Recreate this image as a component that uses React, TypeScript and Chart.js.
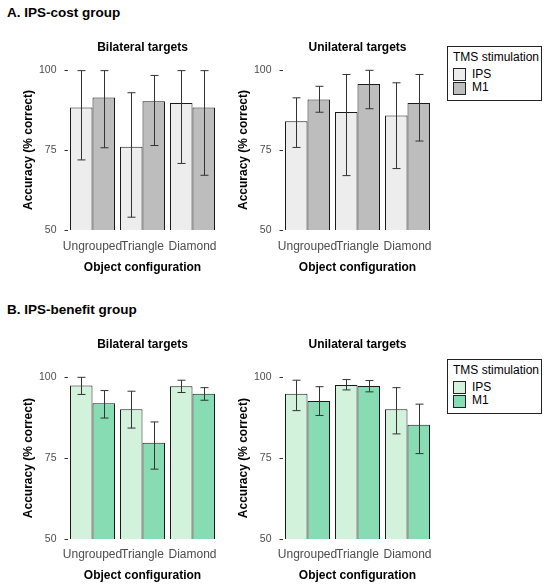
import { useEffect, useRef } from "react";
import { Chart, registerables } from "chart.js";

Chart.register(...registerables);
Chart.defaults.font.family = '"Liberation Sans", Arial, sans-serif';

const categories = ["Ungrouped", "Triangle", "Diamond"];
const seriesNames = ["IPS", "M1"];
const yTicks = [50, 75, 100];

// A. IPS-cost group, bilateral targets
const costBiIps = [88.3, 76.0, 89.7];
const costBiIpsLow = [71.9, 54.0, 70.8];
const costBiIpsHigh = [99.8, 92.9, 99.8];
const costBiM1 = [91.4, 90.2, 88.3];
const costBiM1Low = [75.7, 76.4, 67.1];
const costBiM1High = [99.8, 98.3, 99.8];

// A. IPS-cost group, unilateral targets
const costUniIps = [84.0, 86.9, 85.8];
const costUniIpsLow = [75.8, 67.0, 69.2];
const costUniIpsHigh = [91.3, 98.6, 96.0];
const costUniM1 = [90.8, 95.6, 89.7];
const costUniM1Low = [86.8, 87.9, 77.8];
const costUniM1High = [94.9, 99.9, 98.6];

// B. IPS-benefit group, bilateral targets
const benBiIps = [97.5, 90.1, 97.2];
const benBiIpsLow = [94.7, 84.3, 95.3];
const benBiIpsHigh = [100, 95.7, 99.1];
const benBiM1 = [92.0, 79.8, 94.9];
const benBiM1Low = [87.4, 71.6, 92.9];
const benBiM1High = [95.9, 86.2, 96.8];

// B. IPS-benefit group, unilateral targets
const benUniIps = [94.9, 97.6, 90.1];
const benUniIpsLow = [89.7, 96.1, 82.5];
const benUniIpsHigh = [99.1, 99.3, 96.8];
const benUniM1 = [92.7, 97.3, 85.3];
const benUniM1Low = [88.2, 95.5, 76.4];
const benUniM1High = [97.1, 99.0, 91.7];

const greys = ["#ededed", "#bdbdbd"];
const greens = ["#d3f2dc", "#88dcb3"];
const font = '"Liberation Sans", Arial, sans-serif';

// draws the error bars from each dataset's low/high arrays
const errorBars = {
  id: "errorBars",
  afterDatasetsDraw(chart: any) {
    const { ctx } = chart;
    const y = chart.scales.y;
    ctx.save();
    ctx.strokeStyle = "#333";
    ctx.lineWidth = 1;
    chart.data.datasets.forEach((ds: any, i: number) => {
      chart.getDatasetMeta(i).data.forEach((bar: any, j: number) => {
        const top = y.getPixelForValue(ds.high[j]);
        const bot = y.getPixelForValue(ds.low[j]);
        const x = Math.round(bar.x) + 0.5;
        ctx.beginPath();
        ctx.moveTo(x, top);
        ctx.lineTo(x, bot);
        ctx.moveTo(x - 4, top);
        ctx.lineTo(x + 4, top);
        ctx.moveTo(x - 4, bot);
        ctx.lineTo(x + 4, bot);
        ctx.stroke();
      });
    });
    ctx.restore();
  },
};

function Panel(props: any) {
  const ref = useRef<HTMLCanvasElement>(null);
  useEffect(() => {
    const chart = new Chart(ref.current!, {
      type: "bar",
      data: {
        labels: categories,
        datasets: [
          { label: seriesNames[0], data: props.ips, low: props.ipsLow, high: props.ipsHigh, backgroundColor: props.colors[0] } as any,
          { label: seriesNames[1], data: props.m1, low: props.m1Low, high: props.m1High, backgroundColor: props.colors[1] } as any,
        ],
      },
      options: {
        responsive: false,
        animation: false,
        layout: { padding: { left: 0, right: 12.5, top: 0, bottom: 0 } },
        datasets: {
          bar: { borderColor: "#1a1a1a", borderWidth: 1, borderSkipped: false, categoryPercentage: 0.9, barPercentage: 1 },
        },
        plugins: {
          legend: { display: false },
          tooltip: { enabled: false },
          title: {
            display: true,
            fullSize: false,
            text: props.title,
            color: "#000",
            font: { size: 12, weight: "bold" },
            padding: props.titlePad,
          },
        },
        scales: {
          x: {
            grid: { display: false, drawTicks: false },
            border: { display: false },
            ticks: { color: "#4d4d4d", font: { size: 12 }, padding: props.tickPad, maxRotation: 0, autoSkip: false },
            title: {
              display: true,
              text: "Object configuration",
              color: "#000",
              font: { size: 12, weight: "bold" },
              padding: { top: 0, bottom: props.axisPad },
            },
            afterFit: (s: any) => {
              s.height = 48;
            },
          },
          y: {
            min: 50,
            max: 100,
            afterBuildTicks: (s: any) => {
              s.ticks = yTicks.map((v) => ({ value: v }));
            },
            ticks: { color: "#4d4d4d", font: { size: 10.5 }, padding: 8 },
            grid: { drawOnChartArea: false, drawTicks: true, tickLength: 3, tickColor: "#333" },
            border: { display: false },
            title: {
              display: true,
              text: "Accuracy (% correct)",
              color: "#000",
              font: { size: 12, weight: "bold" },
              padding: { top: 21, bottom: 0 },
            },
            afterFit: (s: any) => {
              s.width = 67.5;
            },
          },
        },
      },
      plugins: [errorBars],
    });
    return () => chart.destroy();
  }, []);
  return (
    <canvas
      ref={ref}
      width={230}
      height={props.height}
      style={{ position: "absolute", left: props.left, top: props.top, width: 230, height: props.height }}
    />
  );
}

function Legend({ top, colors }: { top: number; colors: string[] }) {
  return (
    <div
      style={{
        position: "absolute",
        left: 447,
        top,
        width: 95,
        height: 55,
        boxSizing: "border-box",
        border: "1px solid #222",
        fontFamily: font,
        fontSize: 12,
        color: "#000",
      }}
    >
      <div style={{ position: "absolute", left: 5, top: 3, lineHeight: "14px", whiteSpace: "nowrap" }}>TMS stimulation</div>
      {seriesNames.map((name, i) => (
        <div key={name}>
          <div
            style={{
              position: "absolute",
              left: 5,
              top: 21.3 + i * 13.4,
              width: 13,
              height: 13,
              boxSizing: "border-box",
              border: "1.5px solid #222",
              background: colors[i],
            }}
          />
          <div style={{ position: "absolute", left: 24, top: 20.5 + i * 13.4, lineHeight: "13px" }}>{name}</div>
        </div>
      ))}
    </div>
  );
}

const heading = (top: number): any => ({
  position: "absolute",
  left: 7,
  top,
  fontFamily: font,
  fontSize: 13.5,
  fontWeight: "bold",
  lineHeight: "13.5px",
  color: "#000",
  whiteSpace: "nowrap",
});

export default function App() {
  const top = { height: 248, titlePad: { top: 10.3, bottom: 15.3 }, tickPad: 9.8, axisPad: 3.3 };
  const bottom = { height: 257, titlePad: { top: 7.3, bottom: 25.6 }, tickPad: 8.5, axisPad: 4.1 };
  return (
    <div style={{ position: "absolute", left: 0, top: 0, width: 550, height: 588, background: "#fff" }}>
      <div style={heading(5.6)}>A. IPS-cost group</div>
      <Panel {...top} left={0} top={30} title="Bilateral targets" colors={greys}
        ips={costBiIps} ipsLow={costBiIpsLow} ipsHigh={costBiIpsHigh} m1={costBiM1} m1Low={costBiM1Low} m1High={costBiM1High} />
      <Panel {...top} left={215} top={30} title="Unilateral targets" colors={greys}
        ips={costUniIps} ipsLow={costUniIpsLow} ipsHigh={costUniIpsHigh} m1={costUniM1} m1Low={costUniM1Low} m1High={costUniM1High} />
      <Legend top={46} colors={greys} />
      <div style={heading(302.6)}>B. IPS-benefit group</div>
      <Panel {...bottom} left={0} top={330} title="Bilateral targets" colors={greens}
        ips={benBiIps} ipsLow={benBiIpsLow} ipsHigh={benBiIpsHigh} m1={benBiM1} m1Low={benBiM1Low} m1High={benBiM1High} />
      <Panel {...bottom} left={215} top={330} title="Unilateral targets" colors={greens}
        ips={benUniIps} ipsLow={benUniIpsLow} ipsHigh={benUniIpsHigh} m1={benUniM1} m1Low={benUniM1Low} m1High={benUniM1High} />
      <Legend top={359} colors={greens} />
    </div>
  );
}
